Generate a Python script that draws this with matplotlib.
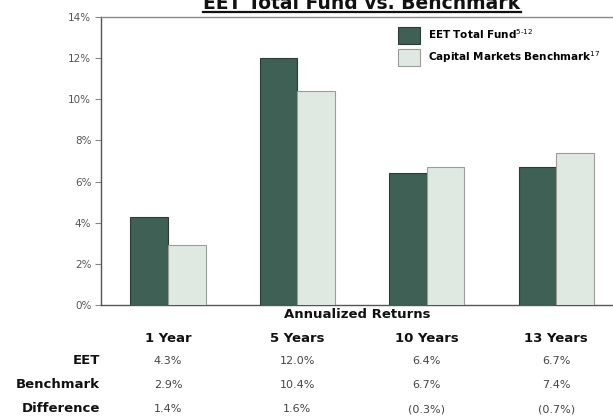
#!/usr/bin/env python3
"""EET Total Fund vs. Benchmark - annualized returns bar chart"""

import numpy as np
import matplotlib
matplotlib.use("Agg")
import matplotlib.pyplot as plt
import matplotlib.transforms as mtransforms
from matplotlib.lines import Line2D

# data
periods = ["1 Year", "5 Years", "10 Years", "13 Years"]
eet = [4.3, 12.0, 6.4, 6.7]
benchmark = [2.9, 10.4, 6.7, 7.4]
difference = ["1.4%", "1.6%", "(0.3%)", "(0.7%)"]
eet_labels = ["4.3%", "12.0%", "6.4%", "6.7%"]
bench_labels = ["2.9%", "10.4%", "6.7%", "7.4%"]
yticks = [0, 2, 4, 6, 8, 10, 12, 14]

DARK = "#3f6055"
LIGHT = "#dfe9e1"

W, H = 613, 418
fig = plt.figure(figsize=(W / 100, H / 100), dpi=100)
fig.patch.set_facecolor("white")

def fy(py):
    """pixel row -> figure fraction"""
    return 1 - py / H

ax = fig.add_axes([101 / W, fy(305), (W - 101) / W, (305 - 17) / H])

x = np.arange(len(periods))
bw = 0.29
ax.bar(x - bw / 2, eet, bw, color=DARK, edgecolor="#2b3b35", linewidth=0.8,
       label=r"EET Total Fund$^{5\text{-}12}$", zorder=3)
ax.bar(x + bw / 2, benchmark, bw, color=LIGHT, edgecolor="#9a9e9a", linewidth=0.8,
       label=r"Capital Markets Benchmark$^{17}$", zorder=3)

ax.set_xlim(-0.518, 3.44)
ax.set_ylim(0, 14)
ax.set_yticks(yticks)
ax.set_yticklabels([f"{v}%" for v in yticks], fontsize=7.5, color="#555555")
ax.set_xticks([])
ax.tick_params(axis="y", direction="out", length=4, color="#888888", pad=3)

for side in ["left", "bottom"]:
    ax.spines[side].set_color("#555555")
    ax.spines[side].set_linewidth(1.0)
ax.spines["top"].set_color("#888888")
ax.spines["top"].set_linewidth(1.0)
ax.spines["right"].set_visible(False)

# legend
leg = ax.legend(loc="upper left", bbox_to_anchor=(393 / W, fy(22)),
                bbox_transform=fig.transFigure, frameon=False, borderpad=0,
                handlelength=2.1, handleheight=2.1, handletextpad=0.75,
                labelspacing=0.45, prop={"weight": "bold", "size": 7.5})

# title with underline
title = fig.text(362 / W, fy(9), "EET Total Fund vs. Benchmark", ha="center",
                 va="baseline", fontsize=13.5, fontweight="bold", color="#111111")
fig.canvas.draw()
bb = title.get_window_extent(fig.canvas.get_renderer())
fig.add_artist(Line2D([bb.x0 / W, bb.x1 / W], [fy(12), fy(12)],
                      transform=fig.transFigure, color="#111111", linewidth=1.6))

# table below the chart
trans = mtransforms.blended_transform_factory(ax.transData, fig.transFigure)
fig.text(357 / W, fy(315), "Annualized Returns", ha="center", va="center",
         fontsize=9.5, fontweight="bold", color="#111111")

rows_y = [361, 385, 409]
row_names = ["EET", "Benchmark", "Difference"]
row_vals = [eet_labels, bench_labels, difference]
for name, ry in zip(row_names, rows_y):
    fig.text(100 / W, fy(ry), name, ha="right", va="center",
             fontsize=9.5, fontweight="bold", color="#111111")

for i, p in enumerate(periods):
    fig.text(x[i], fy(338), p, transform=trans, ha="center", va="center",
             fontsize=9.5, fontweight="bold", color="#111111")
    for vals, ry in zip(row_vals, rows_y):
        fig.text(x[i], fy(ry), vals[i], transform=trans, ha="center", va="center",
                 fontsize=8, color="#444444")

fig.savefig("out.png", dpi=100)
